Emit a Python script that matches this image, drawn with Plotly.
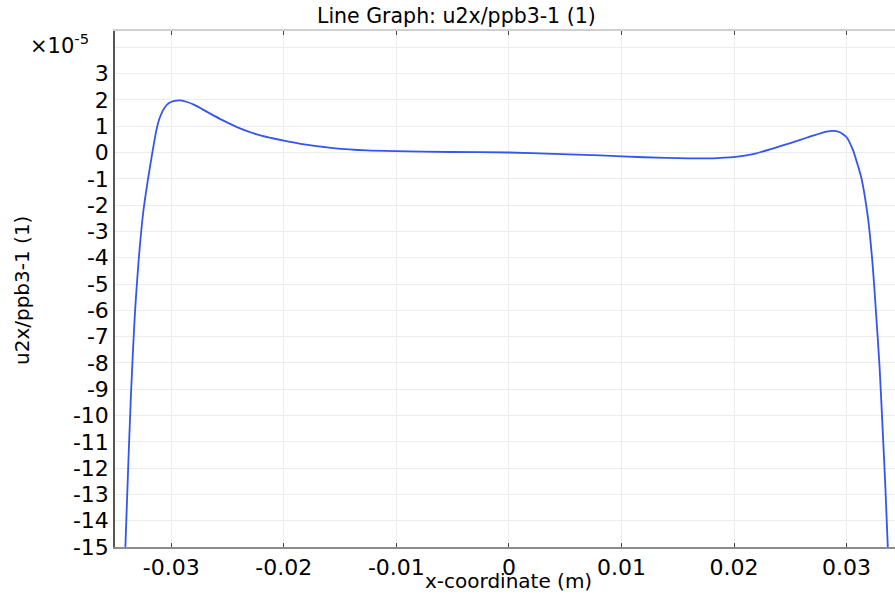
import plotly.graph_objects as go

# x-coordinate (m)
x_m = [-0.03408, -0.03393, -0.03378, -0.03360, -0.03340, -0.03320, -0.03290,
       -0.03250, -0.03210, -0.03170, -0.03130, -0.03100, -0.03060, -0.03020,
       -0.02980, -0.02920, -0.02860, -0.02800, -0.02730, -0.02650, -0.02550,
       -0.02390, -0.02200, -0.02000, -0.01850, -0.01560, -0.01260, -0.01010,
       -0.00520, 0.0, 0.0040, 0.0081, 0.0120, 0.0160, 0.0185, 0.0205,
       0.0220, 0.0235, 0.0250, 0.0265, 0.0278, 0.0287, 0.0294, 0.0300,
       0.03056, 0.0309, 0.0313, 0.03189, 0.03233, 0.03264, 0.03293, 0.03322,
       0.03343, 0.03366]
# u2x/ppb3-1 in units of 1e-5
u_e5 = [-15.0, -13.2, -11.4, -9.4, -7.5, -5.9, -4.1,
        -2.3, -1.1, -0.05, 0.9, 1.35, 1.7, 1.88,
        1.95, 1.98, 1.92, 1.82, 1.66, 1.47, 1.24,
        0.92, 0.64, 0.45, 0.33, 0.17, 0.08, 0.05,
        0.02, 0.0, -0.05, -0.11, -0.18, -0.22, -0.21, -0.15,
        -0.03, 0.16, 0.36, 0.57, 0.75, 0.82, 0.77, 0.58,
        0.10, -0.35, -0.94, -2.46, -4.36, -6.26, -8.15, -10.68,
        -12.58, -15.0]

x_ticks = [-0.03, -0.02, -0.01, 0.0, 0.01, 0.02, 0.03]
x_ticklabels = ["-0.03", "-0.02", "-0.01", "0", "0.01", "0.02", "0.03"]
y_ticks = list(range(-15, 5))
y_ticklabels = [str(v) for v in range(-15, 4)] + [""]

font = "DejaVu Sans"
L, T, W, H = 115, 31, 780, 516

fig = go.Figure()
fig.add_trace(go.Scatter(x=x_m, y=u_e5, mode="lines",
                         line=dict(color="#3355f0", width=1.8, shape="spline", smoothing=0.5),
                         showlegend=False))
fig.add_trace(go.Scatter(x=x_m[:1], y=u_e5[:1], xaxis="x2", mode="lines",
                         line=dict(width=0), showlegend=False, hoverinfo="skip"))

fig.update_layout(
    width=895, height=596,
    margin=dict(l=L, r=895 - L - W, t=T, b=596 - T - H, autoexpand=False),
    paper_bgcolor="white", plot_bgcolor="white",
    font=dict(family=font, size=20, color="black"),
    xaxis=dict(range=[-0.035, 0.0343], tickvals=x_ticks, ticktext=x_ticklabels,
               showgrid=True, gridcolor="#ececec", gridwidth=1, zeroline=False,
               showline=True, linecolor="#8c8c8c", linewidth=1.5, automargin=False,
               ticks="inside", ticklen=4, tickcolor="#444",
               tickfont=dict(family=font, size=22, color="black")),
    xaxis2=dict(range=[-0.035, 0.0343], overlaying="x", side="top", tickvals=x_ticks,
                showticklabels=False, showgrid=False, zeroline=False, automargin=False,
                showline=True, linecolor="#d0d0d0", linewidth=1.5,
                ticks="inside", ticklen=4, tickcolor="#444"),
    yaxis=dict(range=[-15, 4.62], tickvals=y_ticks, ticktext=y_ticklabels,
               showgrid=True, gridcolor="#ececec", gridwidth=1, zeroline=False,
               showline=True, linecolor="#555", linewidth=1.5, automargin=False,
               ticks="", tickfont=dict(family=font, size=22, color="black")),
    annotations=[
        dict(text="Line Graph: u2x/ppb3-1 (1)", xref="paper", yref="paper",
             x=(456 - L) / W, y=(T + H - 16) / H, xanchor="center", yanchor="middle",
             showarrow=False, font=dict(family=font, size=20.5, color="black")),
        dict(text="x-coordinate (m)", xref="paper", yref="paper", x=(508 - L) / W,
             y=(T + H - 581) / H, xanchor="center", yanchor="middle", showarrow=False,
             font=dict(family=font, size=20, color="black")),
        dict(text="u2x/ppb3-1 (1)", xref="paper", yref="paper", x=(22 - L) / W,
             y=(T + H - 291) / H, xanchor="center", yanchor="middle", textangle=-90,
             showarrow=False, font=dict(family=font, size=20, color="black")),
        dict(text="\u00d710<sup>-5</sup>", xref="paper", yref="paper", x=(91 - L) / W,
             y=(T + H - 44) / H, xanchor="right", yanchor="middle", showarrow=False,
             font=dict(family=font, size=21, color="black")),
    ],
)

fig.write_html("out.html", config={"displayModeBar": False},
               post_script="document.body.style.margin='0';document.body.style.overflow='hidden';")
